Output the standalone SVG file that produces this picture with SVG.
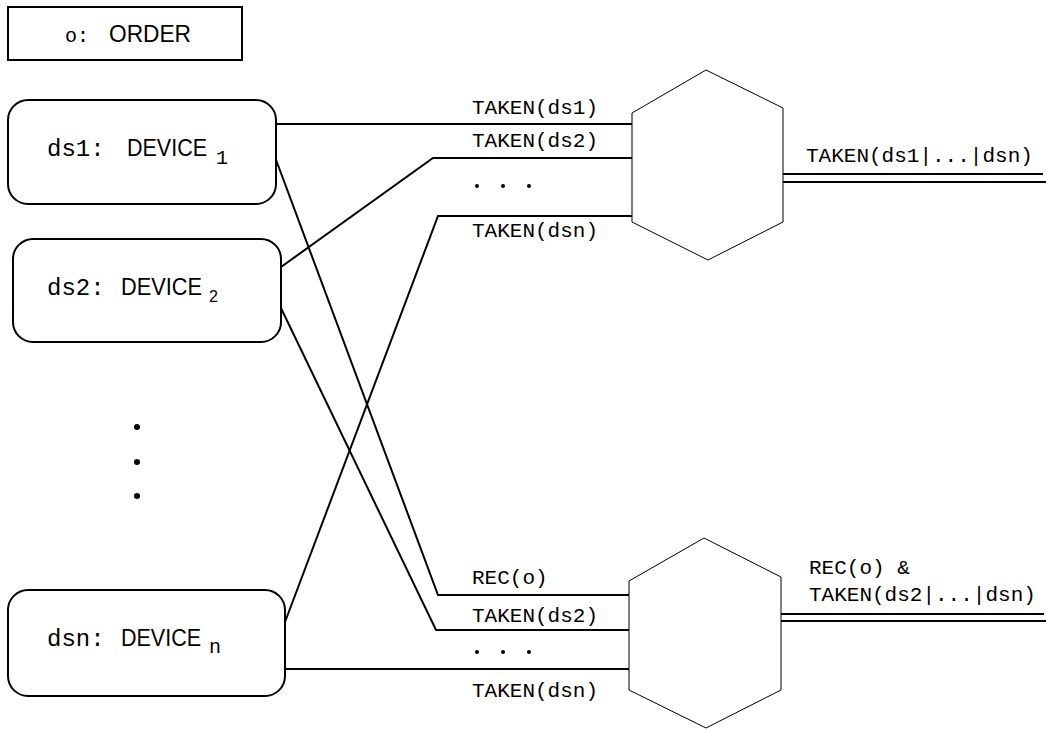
<svg xmlns="http://www.w3.org/2000/svg" width="1046" height="729" viewBox="0 0 1046 729">
<style>
.box{fill:#fff;stroke:#000;stroke-width:2}
.hex{fill:#fff;stroke:#000;stroke-width:1}
.ln{fill:none;stroke:#000;stroke-width:2}
.mono{font-family:"Liberation Mono","Courier New",monospace;fill:#000}
.sans{font-family:"Liberation Sans",Arial,sans-serif;fill:#000}
.lbl{font-family:"Liberation Mono","Courier New",monospace;font-size:21px;fill:#000}
</style>
<rect width="1046" height="729" fill="#fff"/>
<g id="connectors">
<polyline class="ln" points="275,124 632,124"/>
<polyline class="ln" points="281,267 433,158 633,158"/>
<polyline class="ln" points="285,622 438,216 633,216"/>
<polyline class="ln" points="275,157 438,595 629,595"/>
<polyline class="ln" points="280,306 436,630 631,630"/>
<polyline class="ln" points="285,669 631,669"/>
<line class="ln" x1="783" y1="174" x2="1043" y2="174"/>
<line class="ln" x1="783" y1="182" x2="1046" y2="182"/>
<line class="ln" x1="781" y1="614" x2="1044" y2="614"/>
<line class="ln" x1="781" y1="621" x2="1046" y2="621"/>
<text class="lbl" x="472" y="114">TAKEN(ds1)</text>
<text class="lbl" x="472" y="147">TAKEN(ds2)</text>
<text class="lbl" x="472" y="237">TAKEN(dsn)</text>
<text class="lbl" x="472" y="584">REC(o)</text>
<text class="lbl" x="472" y="622">TAKEN(ds2)</text>
<text class="lbl" x="472" y="697">TAKEN(dsn)</text>
<text class="lbl" x="806" y="162">TAKEN(ds1|...|dsn)</text>
<text class="lbl" x="809" y="574">REC(o) &amp;</text>
<text class="lbl" x="809" y="601">TAKEN(ds2|...|dsn)</text>
<g fill="#000">
<circle cx="477" cy="186" r="2"/><circle cx="503" cy="186" r="2"/><circle cx="529" cy="186" r="2"/>
<circle cx="477" cy="652" r="2"/><circle cx="503" cy="652" r="2"/><circle cx="529" cy="652" r="2"/>
</g>
</g>
<g id="order">
<rect class="box" x="8" y="7" width="234" height="53"/>
<text y="42"><tspan class="mono" font-size="20" x="65">o:</tspan><tspan class="sans" font-size="24" x="109" textLength="82" lengthAdjust="spacingAndGlyphs">ORDER</tspan></text>
</g>
<g id="ds1">
<rect class="box" x="8" y="100" width="268" height="104" rx="20"/>
<text y="156"><tspan class="mono" font-size="24" x="47">ds1:</tspan><tspan class="sans" font-size="24" x="127" textLength="80" lengthAdjust="spacingAndGlyphs">DEVICE</tspan><tspan class="mono" font-size="20" x="216" y="164">1</tspan></text>
</g>
<g id="ds2">
<rect class="box" x="13" y="239" width="268" height="103" rx="20"/>
<text y="295"><tspan class="mono" font-size="24" x="47">ds2:</tspan><tspan class="sans" font-size="24" x="121" textLength="81" lengthAdjust="spacingAndGlyphs">DEVICE</tspan><tspan class="sans" font-size="16" x="209" y="302">2</tspan></text>
</g>
<g id="dots">
<circle cx="137" cy="427" r="3"/>
<circle cx="137" cy="462" r="3"/>
<circle cx="137" cy="496" r="3"/>
</g>
<g id="dsn">
<rect class="box" x="8" y="590" width="277" height="106" rx="20"/>
<text y="646"><tspan class="mono" font-size="24" x="47">dsn:</tspan><tspan class="sans" font-size="24" x="121" textLength="80" lengthAdjust="spacingAndGlyphs">DEVICE</tspan><tspan class="mono" font-size="20" x="209" y="653">n</tspan></text>
</g>
<g id="hex1">
<polygon class="hex" points="632,113 706,70 783,108 783,222 708,260 632,222"/>
</g>
<g id="hex2">
<polygon class="hex" points="629,581 704,538 781,577 781,690 706,728 629,690"/>
</g>
</svg>
